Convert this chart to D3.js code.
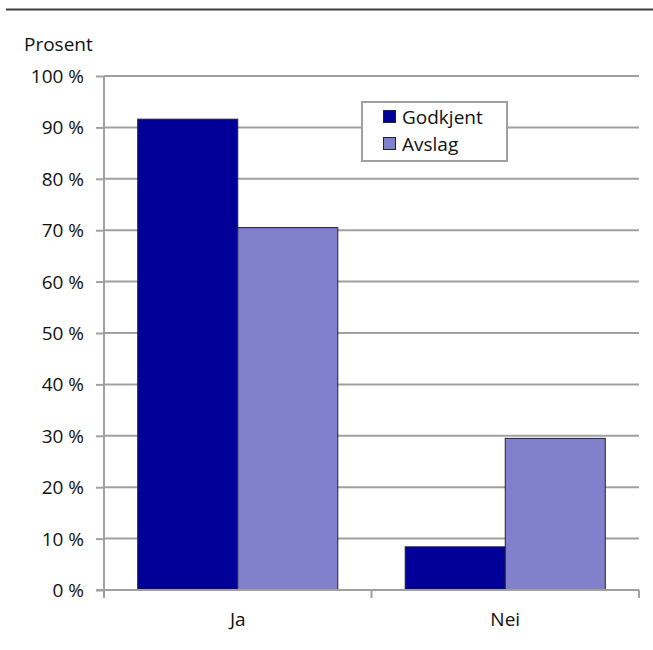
<!DOCTYPE html>
<html>
<head>
<meta charset="utf-8">
<script src="https://cdn.jsdelivr.net/npm/d3@7"></script>
<style>
  html, body { margin: 0; padding: 0; background: #fff; }
  svg { display: block; font-family: "Open Sans", "Noto Sans", sans-serif; }
</style>
</head>
<body>
<svg id="chart" width="653" height="650"></svg>
<script>
const categories = ["Ja", "Nei"];
const seriesNames = ["Godkjent", "Avslag"];
const godkjent = [91.6, 8.4];
const avslag = [70.5, 29.5];
const yTicks = [0, 10, 20, 30, 40, 50, 60, 70, 80, 90, 100];
const colors = ["#000099", "#8080cc"];

const seriesValues = [godkjent, avslag];
const svg = d3.select("#chart");
const fontSize = 19;

// top rule
svg.append("line").attr("x1", 6).attr("x2", 653).attr("y1", 9.5).attr("y2", 9.5)
  .attr("stroke", "#404040").attr("stroke-width", 2);

const mLeft = 104, mRight = 639, mTop = 76, mBottom = 590;
const y = d3.scaleLinear().domain([0, 100]).range([mBottom, mTop]);
const x = d3.scaleBand().domain(categories).range([mLeft, mRight]).padding(0);
const groupW = x.bandwidth() * 0.748;
const x1 = d3.scaleBand().domain(seriesNames).range([0, groupW]).padding(0);

// gridlines
svg.append("g").selectAll("line").data(yTicks.filter(d => d > 0)).join("line")
  .attr("x1", mLeft).attr("x2", mRight)
  .attr("y1", d => y(d)).attr("y2", d => y(d))
  .attr("stroke", "#a0a0a0").attr("stroke-width", 2);

// y axis
const yAxis = svg.append("g").attr("transform", `translate(${mLeft},0)`)
  .call(d3.axisLeft(y).tickValues(yTicks).tickSize(8).tickPadding(12).tickFormat(d => d + " %"));
yAxis.select(".domain").attr("stroke", "#a0a0a0").attr("stroke-width", 2).attr("d", `M0,${mTop}V${mBottom + 8}`);
yAxis.selectAll(".tick line").attr("stroke", "#a0a0a0").attr("stroke-width", 2);
yAxis.selectAll(".tick text").attr("font-size", fontSize).attr("fill", "#111")
  .attr("font-family", "'Open Sans', 'Noto Sans', sans-serif").attr("dy", "0.34em");

// bars
categories.forEach((c, ci) => {
  const gx = x(c) + (x.bandwidth() - groupW) / 2;
  svg.append("g").selectAll("rect").data(seriesNames).join("rect")
    .attr("x", s => gx + x1(s))
    .attr("y", (s, si) => y(seriesValues[si][ci]))
    .attr("width", x1.bandwidth())
    .attr("height", (s, si) => y(0) - y(seriesValues[si][ci]))
    .attr("fill", (s, si) => colors[si])
    .attr("stroke", "#222").attr("stroke-width", 1);
});

// x axis
const xAxis = svg.append("g").attr("transform", `translate(0,${mBottom})`)
  .call(d3.axisBottom(x).tickSize(0).tickPadding(23));
xAxis.select(".domain").remove();
xAxis.selectAll(".tick text").attr("font-size", fontSize).attr("fill", "#111")
  .attr("font-family", "'Open Sans', 'Noto Sans', sans-serif");
svg.append("line").attr("x1", mLeft - 8).attr("x2", mRight).attr("y1", mBottom).attr("y2", mBottom)
  .attr("stroke", "#a0a0a0").attr("stroke-width", 2);
// category boundary ticks
svg.append("g").selectAll("line").data(categories.slice(1).map(c => x(c)).concat([mRight])).join("line")
  .attr("x1", d => d).attr("x2", d => d).attr("y1", mBottom).attr("y2", mBottom + 8)
  .attr("stroke", "#a0a0a0").attr("stroke-width", 2);

// y label
svg.append("text").attr("x", 24).attr("y", 51).attr("font-size", fontSize).attr("fill", "#111")
  .text("Prosent");

// legend
const lg = svg.append("g");
lg.append("rect").attr("x", 362).attr("y", 102).attr("width", 145).attr("height", 59)
  .attr("fill", "#fff").attr("stroke", "#a0a0a0").attr("stroke-width", 2);
seriesNames.forEach((s, i) => {
  lg.append("rect").attr("x", 383.5).attr("y", 110.5 + i * 27).attr("width", 12).attr("height", 12)
    .attr("fill", colors[i]).attr("stroke", "#222").attr("stroke-width", 1);
  lg.append("text").attr("x", 402).attr("y", 123.5 + i * 27).attr("font-size", fontSize).attr("fill", "#111")
    .text(s);
});
</script>
</body>
</html>
